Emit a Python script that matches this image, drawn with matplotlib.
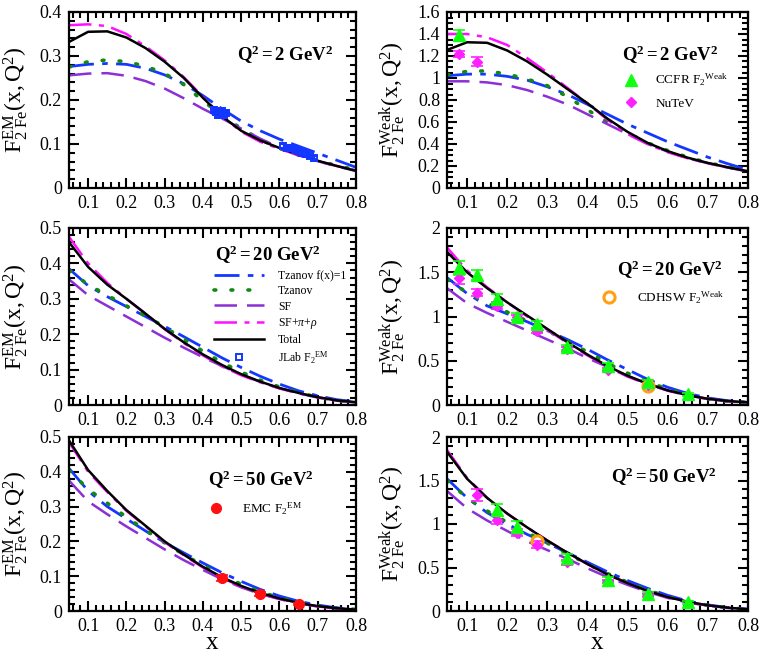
import matplotlib
matplotlib.use('Agg')
import matplotlib.pyplot as plt
from matplotlib.ticker import MultipleLocator, FormatStrFormatter

plt.rcParams['font.family'] = 'serif'
plt.rcParams['font.serif'] = ['Liberation Serif', 'DejaVu Serif']
plt.rcParams['mathtext.fontset'] = 'custom'
plt.rcParams['mathtext.rm'] = 'Liberation Serif'
plt.rcParams['mathtext.it'] = 'Liberation Serif:italic'
plt.rcParams['mathtext.bf'] = 'Liberation Serif:bold'

# x grid of the model curves
X_PTS = [0.05, 0.1, 0.15, 0.2, 0.25, 0.3, 0.35, 0.4,
         0.45, 0.5, 0.55, 0.6, 0.65, 0.7, 0.75, 0.8]

# ---- EM, Q^2 = 2 GeV^2
EM2_TZF1 = [0.276, 0.281, 0.283, 0.281, 0.272, 0.257, 0.237, 0.21, 0.18, 0.152, 0.13, 0.111, 0.095, 0.079, 0.063, 0.047]
EM2_TZ = [0.275, 0.287, 0.291, 0.287, 0.277, 0.26, 0.235, 0.198, 0.165, 0.135, 0.11, 0.09, 0.075, 0.062, 0.051, 0.041]
EM2_SF = [0.256, 0.26, 0.261, 0.255, 0.243, 0.226, 0.204, 0.18, 0.158, 0.135, 0.112, 0.092, 0.075, 0.061, 0.049, 0.039]
EM2_SFPR = [0.370, 0.372, 0.368, 0.350, 0.322, 0.290, 0.252, 0.207, 0.163, 0.128, 0.105, 0.089, 0.074, 0.061, 0.05, 0.04]
EM2_TOT = [0.332, 0.355, 0.356, 0.342, 0.318, 0.287, 0.25, 0.205, 0.163, 0.13, 0.108, 0.091, 0.076, 0.062, 0.05, 0.039]
JLAB_X = [0.43, 0.435, 0.44, 0.445, 0.45, 0.455, 0.46,
          0.61, 0.62, 0.63, 0.64, 0.65, 0.66, 0.67, 0.68, 0.69]
JLAB_Y = [0.178, 0.172, 0.165, 0.17, 0.176, 0.165, 0.17,
          0.095, 0.092, 0.09, 0.087, 0.085, 0.08, 0.077, 0.072, 0.068]
JLAB_ERR = [0.006, 0.006, 0.006, 0.006, 0.006, 0.006, 0.006,
            0.004, 0.004, 0.004, 0.004, 0.004, 0.004, 0.004, 0.004, 0.004]

# ---- Weak, Q^2 = 2 GeV^2
WK2_TZF1 = [1.02, 1.035, 1.035, 1.015, 0.98, 0.92, 0.85, 0.76, 0.67, 0.58, 0.5, 0.42, 0.35, 0.28, 0.22, 0.165]
WK2_TZ = [1.03, 1.06, 1.065, 1.035, 0.99, 0.93, 0.83, 0.71, 0.6, 0.5, 0.41, 0.34, 0.28, 0.23, 0.19, 0.155]
WK2_SF = [0.97, 0.97, 0.96, 0.935, 0.89, 0.83, 0.76, 0.67, 0.58, 0.49, 0.4, 0.33, 0.27, 0.225, 0.185, 0.15]
WK2_SFPR = [1.40, 1.40, 1.37, 1.3, 1.18, 1.05, 0.91, 0.77, 0.62, 0.49, 0.4, 0.325, 0.27, 0.225, 0.187, 0.152]
WK2_TOT = [1.255, 1.325, 1.32, 1.25, 1.15, 1.03, 0.9, 0.77, 0.63, 0.51, 0.41, 0.335, 0.275, 0.228, 0.188, 0.152]
CCFR2_X, CCFR2_Y, CCFR2_ERR = [0.08], [1.39], [0.05]
NUTEV2_X, NUTEV2_Y, NUTEV2_ERR = [0.08, 0.125], [1.22, 1.15], [0.03, 0.04]

# ---- EM, Q^2 = 20 GeV^2
EM20_TZF1 = [0.385, 0.337, 0.306, 0.278, 0.25, 0.222, 0.193, 0.163, 0.133, 0.106, 0.081, 0.059, 0.04, 0.026, 0.015, 0.009]
EM20_TZ = [0.38, 0.34, 0.31, 0.28, 0.252, 0.22, 0.186, 0.152, 0.12, 0.093, 0.07, 0.051, 0.035, 0.022, 0.013, 0.008]
EM20_SF = [0.355, 0.31, 0.28, 0.25, 0.22, 0.19, 0.162, 0.135, 0.11, 0.086, 0.065, 0.047, 0.033, 0.021, 0.012, 0.007]
EM20_SFPR = [0.475, 0.40, 0.345, 0.30, 0.258, 0.214, 0.175, 0.14, 0.109, 0.084, 0.064, 0.047, 0.033, 0.022, 0.013, 0.008]
EM20_TOT = [0.46, 0.39, 0.34, 0.30, 0.258, 0.215, 0.177, 0.143, 0.113, 0.087, 0.066, 0.048, 0.034, 0.022, 0.013, 0.008]

# ---- Weak, Q^2 = 20 GeV^2
WK20_TZF1 = [1.44, 1.26, 1.12, 1.03, 0.94, 0.84, 0.74, 0.63, 0.51, 0.4, 0.29, 0.2, 0.13, 0.08, 0.048, 0.03]
WK20_TZ = [1.42, 1.27, 1.15, 1.05, 0.95, 0.84, 0.72, 0.6, 0.47, 0.36, 0.26, 0.18, 0.115, 0.07, 0.042, 0.028]
WK20_SF = [1.32, 1.15, 1.04, 0.94, 0.84, 0.74, 0.64, 0.53, 0.43, 0.33, 0.24, 0.165, 0.108, 0.068, 0.04, 0.027]
WK20_SFPR = [1.78, 1.52, 1.33, 1.16, 1.0, 0.85, 0.7, 0.56, 0.43, 0.32, 0.235, 0.162, 0.108, 0.07, 0.045, 0.03]
WK20_TOT = [1.73, 1.5, 1.32, 1.16, 1.01, 0.86, 0.71, 0.57, 0.44, 0.33, 0.24, 0.165, 0.11, 0.07, 0.045, 0.03]
CCFR20_X = [0.08, 0.125, 0.175, 0.225, 0.275, 0.35, 0.45, 0.55, 0.65]
CCFR20_Y = [1.55, 1.47, 1.2, 1.0, 0.91, 0.65, 0.44, 0.26, 0.12]
CCFR20_ERR = [0.08, 0.06, 0.05, 0.04, 0.04, 0.03, 0.03, 0.02, 0.02]
NUTEV20_X = [0.08, 0.125, 0.175, 0.225, 0.275, 0.35, 0.45, 0.55]
NUTEV20_Y = [1.43, 1.27, 1.12, 0.99, 0.84, 0.63, 0.40, 0.23]
NUTEV20_ERR = [0.06, 0.04, 0.04, 0.03, 0.03, 0.02, 0.02, 0.02]
CDHSW20_X, CDHSW20_Y = [0.55], [0.21]

# ---- EM, Q^2 = 50 GeV^2
EM50_TZF1 = [0.41, 0.345, 0.3, 0.265, 0.23, 0.197, 0.167, 0.138, 0.11, 0.085, 0.062, 0.043, 0.028, 0.017, 0.009, 0.005]
EM50_TZ = [0.405, 0.35, 0.31, 0.27, 0.232, 0.196, 0.162, 0.131, 0.102, 0.077, 0.055, 0.038, 0.025, 0.015, 0.008, 0.004]
EM50_SF = [0.375, 0.315, 0.278, 0.243, 0.21, 0.177, 0.146, 0.118, 0.091, 0.068, 0.049, 0.034, 0.022, 0.013, 0.007, 0.004]
EM50_SFPR = [0.485, 0.40, 0.342, 0.288, 0.243, 0.198, 0.16, 0.125, 0.095, 0.07, 0.05, 0.035, 0.022, 0.013, 0.007, 0.004]
EM50_TOT = [0.49, 0.405, 0.345, 0.29, 0.245, 0.2, 0.162, 0.127, 0.097, 0.072, 0.052, 0.036, 0.023, 0.014, 0.008, 0.004]
EMC_X, EMC_Y, EMC_ERR = [0.45, 0.55, 0.65], [0.095, 0.05, 0.02], [0.008, 0.006, 0.004]

# ---- Weak, Q^2 = 50 GeV^2
WK50_TZF1 = [1.52, 1.3, 1.13, 1.0, 0.88, 0.78, 0.67, 0.56, 0.45, 0.35, 0.26, 0.18, 0.115, 0.07, 0.04, 0.022]
WK50_TZ = [1.5, 1.3, 1.15, 1.02, 0.9, 0.78, 0.66, 0.54, 0.43, 0.33, 0.24, 0.165, 0.105, 0.065, 0.037, 0.02]
WK50_SF = [1.38, 1.18, 1.04, 0.92, 0.8, 0.7, 0.6, 0.49, 0.39, 0.3, 0.22, 0.15, 0.097, 0.06, 0.035, 0.019]
WK50_SFPR = [1.85, 1.53, 1.3, 1.12, 0.96, 0.81, 0.67, 0.54, 0.42, 0.32, 0.23, 0.16, 0.105, 0.065, 0.038, 0.02]
WK50_TOT = [1.83, 1.52, 1.3, 1.12, 0.96, 0.81, 0.67, 0.54, 0.42, 0.32, 0.23, 0.16, 0.105, 0.065, 0.038, 0.02]
CCFR50_X = [0.175, 0.225, 0.35, 0.45, 0.55, 0.65]
CCFR50_Y = [1.16, 0.97, 0.61, 0.36, 0.2, 0.1]
CCFR50_ERR = [0.07, 0.06, 0.04, 0.03, 0.02, 0.02]
NUTEV50_X = [0.125, 0.175, 0.225, 0.275, 0.35, 0.45, 0.55]
NUTEV50_Y = [1.33, 1.05, 0.9, 0.76, 0.56, 0.34, 0.18]
NUTEV50_ERR = [0.07, 0.05, 0.04, 0.04, 0.03, 0.02, 0.02]
CDHSW50_X, CDHSW50_Y = [0.275], [0.81]

CURVE_LABELS = ['Tzanov f(x)=1', 'Tzanov', 'SF', r'SF+$\pi$+$\rho$', 'Total']

BLUE, GREEN, PURPLE, MAGENTA = '#1437ff', '#118a11', '#8c2fd6', '#ff10ff'

# line styles of the five model curves
STYLES = [
    dict(color=BLUE, lw=2.0, dashes=(9, 3, 2, 3, 9, 3)),
    dict(color=GREEN, lw=2.6, dashes=(0.5, 4.2), dash_capstyle='round'),
    dict(color=PURPLE, lw=1.8, dashes=(9, 4)),
    dict(color=MAGENTA, lw=1.8, dashes=(9, 3, 2, 3)),
    dict(color='black', lw=1.8, linestyle='-'),
]


def draw_curves(ax, curves):
    handles = []
    for y, st, lab in zip(curves, STYLES, CURVE_LABELS):
        h, = ax.plot(X_PTS, y, label=lab, **st)
        handles.append(h)
    return handles


def style_axes(ax, ymax, ymajor, yminor):
    ax.set_xlim(0.05, 0.8)
    ax.set_ylim(0, ymax)
    ax.xaxis.set_major_locator(MultipleLocator(0.1))
    ax.xaxis.set_minor_locator(MultipleLocator(0.02))
    ax.yaxis.set_major_locator(MultipleLocator(ymajor))
    ax.yaxis.set_minor_locator(MultipleLocator(yminor))
    ax.yaxis.set_major_formatter(FormatStrFormatter('%g'))
    ax.tick_params(which='both', direction='in', top=True, right=True,
                   labelsize=13, width=1.5)
    ax.tick_params(which='major', length=7, pad=5)
    ax.tick_params(which='minor', length=4)
    ax.set_xticks([0.1, 0.2, 0.3, 0.4, 0.5, 0.6, 0.7, 0.8])
    for s in ax.spines.values():
        s.set_linewidth(1.6)


def q2_text(ax, x, y, q):
    ax.text(x, y, r'$\mathbf{Q^{2} = %s\ GeV^{2}}$' % q, transform=ax.transAxes,
            fontsize=13.5, ha='left', va='center')


fig = plt.figure(figsize=(7.63, 6.54), dpi=100)
L0, LW = 69 / 763, 287 / 763
R0, RW = 447 / 763, 301 / 763
rows = [(1 - 188 / 654, 176 / 654), (1 - 405 / 654, 177 / 654), (1 - 611 / 654, 174 / 654)]

ax_em2 = fig.add_axes([L0, rows[0][0], LW, rows[0][1]])
ax_wk2 = fig.add_axes([R0, rows[0][0], RW, rows[0][1]])
ax_em20 = fig.add_axes([L0, rows[1][0], LW, rows[1][1]])
ax_wk20 = fig.add_axes([R0, rows[1][0], RW, rows[1][1]])
ax_em50 = fig.add_axes([L0, rows[2][0], LW, rows[2][1]])
ax_wk50 = fig.add_axes([R0, rows[2][0], RW, rows[2][1]])

em_label = r'$\mathrm{F}_{2\ \mathrm{Fe}}^{\mathrm{EM}}\mathrm{(x,Q^{2})}$'
wk_label = r'$\mathrm{F}_{2\ \mathrm{Fe}}^{\mathrm{Weak}}\mathrm{(x,Q^{2})}$'

ebkw = dict(linestyle='none', capsize=4, elinewidth=1.2, capthick=1.2)

# legend-only handles (markers without error bars)
h_ccfr, = plt.plot([], [], linestyle='none', marker='^', ms=9, color='#10ff10')
h_nutev, = plt.plot([], [], linestyle='none', marker='D', ms=5, color='#ff20ff')
h_cdhsw, = plt.plot([], [], linestyle='none', marker='o', ms=8, mfc='none', mec='#ffa010', mew=2.2)
h_emc, = plt.plot([], [], linestyle='none', marker='o', ms=7, color='#ff1010')
h_jlab, = plt.plot([], [], linestyle='none', marker='s', ms=5, mfc='none', mec=BLUE, mew=1.4)


def weak_data(ax, cx, cy, ce, nx, ny, ne):
    ax.errorbar(nx, ny, yerr=ne, marker='D', ms=5, color='#ff20ff', ecolor='#ff20ff', **ebkw)
    ax.errorbar(cx, cy, yerr=ce, marker='^', ms=9, color='#10ff10', ecolor='#10ff10', **ebkw)


def cdhsw(ax, x, y):
    ax.plot(x, y, linestyle='none', marker='o', ms=8, mfc='none', mec='#ffa010', mew=2.2)


legkw = dict(loc='upper left', frameon=False, fontsize=9.5, handlelength=1.5,
             borderaxespad=0, borderpad=0.4)

# EM Q2=2
draw_curves(ax_em2, [EM2_TZF1, EM2_TZ, EM2_SF, EM2_SFPR, EM2_TOT])
ax_em2.errorbar(JLAB_X, JLAB_Y, yerr=JLAB_ERR, marker='s', ms=5, mfc='none',
                mec=BLUE, mew=1.4, ecolor=BLUE, linestyle='none',
                capsize=2, elinewidth=1)
style_axes(ax_em2, 0.4, 0.1, 0.02)
q2_text(ax_em2, 0.585, 0.755, '2')

# Weak Q2=2
draw_curves(ax_wk2, [WK2_TZF1, WK2_TZ, WK2_SF, WK2_SFPR, WK2_TOT])
weak_data(ax_wk2, CCFR2_X, CCFR2_Y, CCFR2_ERR, NUTEV2_X, NUTEV2_Y, NUTEV2_ERR)
style_axes(ax_wk2, 1.6, 0.2, 0.05)
q2_text(ax_wk2, 0.58, 0.755, '2')
ax_wk2.legend([h_ccfr, h_nutev], [r'CCFR F$_2$$^{\mathrm{Weak}}$', 'NuTeV'],
              bbox_to_anchor=(0.56, 0.69), handletextpad=1.1, labelspacing=0.7, **legkw)

# EM Q2=20
hs = draw_curves(ax_em20, [EM20_TZF1, EM20_TZ, EM20_SF, EM20_SFPR, EM20_TOT])
style_axes(ax_em20, 0.5, 0.1, 0.02)
q2_text(ax_em20, 0.51, 0.847, '20')
ax_em20.legend(hs + [h_jlab], CURVE_LABELS + [r'JLab F$_2$$^{\mathrm{EM}}$'],
               loc='upper left', bbox_to_anchor=(0.49, 0.79), frameon=False,
               fontsize=8.5, handlelength=4.2, handletextpad=1.2, labelspacing=0.28,
               borderaxespad=0, borderpad=0.4)

# Weak Q2=20
draw_curves(ax_wk20, [WK20_TZF1, WK20_TZ, WK20_SF, WK20_SFPR, WK20_TOT])
weak_data(ax_wk20, CCFR20_X, CCFR20_Y, CCFR20_ERR, NUTEV20_X, NUTEV20_Y, NUTEV20_ERR)
cdhsw(ax_wk20, CDHSW20_X, CDHSW20_Y)
style_axes(ax_wk20, 2.0, 0.5, 0.1)
q2_text(ax_wk20, 0.565, 0.763, '20')
ax_wk20.legend([h_cdhsw], [r'CDHSW F$_2$$^{\mathrm{Weak}}$'],
               bbox_to_anchor=(0.487, 0.684), handletextpad=1.4, **legkw)

# EM Q2=50
draw_curves(ax_em50, [EM50_TZF1, EM50_TZ, EM50_SF, EM50_SFPR, EM50_TOT])
ax_em50.errorbar(EMC_X, EMC_Y, yerr=EMC_ERR, marker='o', ms=7, color='#ff1010',
                 ecolor='#ff1010', **ebkw)
style_axes(ax_em50, 0.5, 0.1, 0.02)
q2_text(ax_em50, 0.485, 0.753, '50')
ax_em50.legend([h_emc], [r'EMC F$_2$$^{\mathrm{EM}}$'],
               bbox_to_anchor=(0.4585, 0.667), handletextpad=1.25, **legkw)

# Weak Q2=50
draw_curves(ax_wk50, [WK50_TZF1, WK50_TZ, WK50_SF, WK50_SFPR, WK50_TOT])
weak_data(ax_wk50, CCFR50_X, CCFR50_Y, CCFR50_ERR, NUTEV50_X, NUTEV50_Y, NUTEV50_ERR)
cdhsw(ax_wk50, CDHSW50_X, CDHSW50_Y)
style_axes(ax_wk50, 2.0, 0.5, 0.1)
q2_text(ax_wk50, 0.545, 0.77, '50')

for ax in (ax_em2, ax_em20, ax_em50):
    ax.set_ylabel(em_label, fontsize=17)
    ax.yaxis.set_label_coords(-0.135, 0.5)
for ax in (ax_wk2, ax_wk20, ax_wk50):
    ax.set_ylabel(wk_label, fontsize=17)
    ax.yaxis.set_label_coords(-0.13, 0.5)
for ax in (ax_em50, ax_wk50):
    ax.set_xlabel('x', fontsize=18, labelpad=-2)

fig.savefig('out.png', dpi=100)
